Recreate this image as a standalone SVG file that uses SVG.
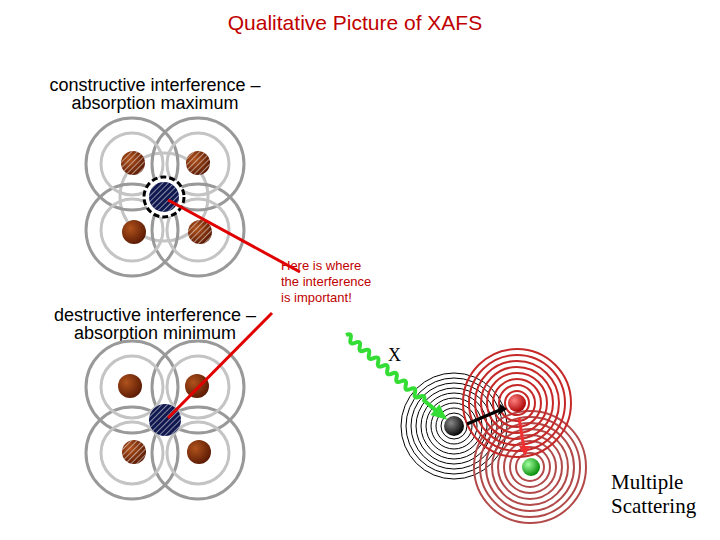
<svg xmlns="http://www.w3.org/2000/svg" width="720" height="540" viewBox="0 0 720 540">
<style>
.s{font-family:"Liberation Sans",Arial,sans-serif;}
.o{fill:none;stroke:#999;stroke-width:3}
.i{fill:none;stroke:#c4c4c4;stroke-width:3}
.bl{fill:none;stroke:#000;stroke-width:1}
.rd{fill:none;stroke:#c62828;stroke-width:2}
.br{fill:none;stroke:#b24a4a;stroke-width:2}
</style>
<defs>
<radialGradient id="cu" cx="0.35" cy="0.35" r="0.7"><stop offset="0" stop-color="#b0521c"/><stop offset="1" stop-color="#5a1a04"/></radialGradient>
<pattern id="h" width="4" height="4" patternUnits="userSpaceOnUse" patternTransform="rotate(45)"><rect width="4" height="4" fill="none"/><line x1="0" y1="0" x2="0" y2="4" stroke="#fff" stroke-width="1"/></pattern>
<radialGradient id="bk" cx="0.35" cy="0.35" r="0.7"><stop offset="0" stop-color="#888"/><stop offset="1" stop-color="#000"/></radialGradient>
<radialGradient id="rb" cx="0.35" cy="0.35" r="0.7"><stop offset="0" stop-color="#ff8080"/><stop offset="1" stop-color="#a00"/></radialGradient>
<radialGradient id="gb" cx="0.35" cy="0.35" r="0.7"><stop offset="0" stop-color="#a0ffa0"/><stop offset="1" stop-color="#080"/></radialGradient>
</defs>
<text class="s" x="355" y="30" font-size="21" fill="#c00000" text-anchor="middle">Qualitative Picture of XAFS</text>
<text class="s" x="155" y="91" font-size="18" text-anchor="middle">constructive interference –</text>
<text class="s" x="155" y="109" font-size="18" text-anchor="middle">absorption maximum</text>
<text class="s" x="155" y="321" font-size="18" text-anchor="middle">destructive interference –</text>
<text class="s" x="155" y="339" font-size="18" text-anchor="middle">absorption minimum</text>
<text class="s" x="281" y="270" font-size="13" fill="#c00000">Here is where</text>
<text class="s" x="281" y="286" font-size="13" fill="#c00000">the interference</text>
<text class="s" x="281" y="302" font-size="13" fill="#c00000">is important!</text>

<g id="top">
<circle class="i" cx="164" cy="197" r="44"/>
<circle class="o" cx="132" cy="164" r="46"/><circle class="o" cx="198" cy="164" r="46"/><circle class="o" cx="132" cy="230" r="46"/><circle class="o" cx="198" cy="230" r="46"/>
<circle class="i" cx="132" cy="164" r="31"/><circle class="i" cx="198" cy="164" r="31"/><circle class="i" cx="132" cy="230" r="31"/><circle class="i" cx="198" cy="230" r="31"/>
<g><circle cx="133" cy="163" r="12" fill="url(#cu)"/><circle cx="133" cy="163" r="12" fill="url(#h)"/></g>
<g><circle cx="198" cy="163" r="12" fill="url(#cu)"/><circle cx="198" cy="163" r="12" fill="url(#h)"/></g>
<circle cx="134" cy="232" r="12" fill="url(#cu)"/>
<g><circle cx="200" cy="232" r="12" fill="url(#cu)"/><circle cx="200" cy="232" r="12" fill="url(#h)"/></g>
<circle cx="164" cy="197" r="20" fill="#fff" stroke="#000" stroke-width="3" stroke-dasharray="6,3"/>
<circle cx="164" cy="197" r="15" fill="#101850"/><circle cx="164" cy="197" r="15" fill="url(#h)"/>
</g>
<g id="bottom">
<circle class="o" cx="132" cy="387" r="46"/><circle class="o" cx="198" cy="387" r="46"/><circle class="o" cx="132" cy="453" r="46"/><circle class="o" cx="198" cy="453" r="46"/>
<circle class="i" cx="132" cy="387" r="31"/><circle class="i" cx="198" cy="387" r="31"/><circle class="i" cx="132" cy="453" r="31"/><circle class="i" cx="198" cy="453" r="31"/>
<circle cx="130" cy="386" r="12" fill="url(#cu)"/><circle cx="197" cy="386" r="12" fill="url(#cu)"/>
<g><circle cx="134" cy="452" r="12" fill="url(#cu)"/><circle cx="134" cy="452" r="12" fill="url(#h)"/></g>
<circle cx="199" cy="452" r="12" fill="url(#cu)"/>
<circle cx="165" cy="420" r="16" fill="#101850"/><circle cx="165" cy="420" r="16" fill="url(#h)"/>
</g>

<g id="ms">
<g class="bl"><circle cx="454" cy="426" r="8"/><circle cx="454" cy="426" r="13"/><circle cx="454" cy="426" r="18"/><circle cx="454" cy="426" r="23"/><circle cx="454" cy="426" r="28"/><circle cx="454" cy="426" r="33"/><circle cx="454" cy="426" r="38"/><circle cx="454" cy="426" r="43"/><circle cx="454" cy="426" r="48"/><circle cx="454" cy="426" r="53"/></g>
<g class="br"><circle cx="530" cy="467" r="14"/><circle cx="530" cy="467" r="20"/><circle cx="530" cy="467" r="26"/><circle cx="530" cy="467" r="32"/><circle cx="530" cy="467" r="38"/><circle cx="530" cy="467" r="44"/><circle cx="530" cy="467" r="50"/><circle cx="530" cy="467" r="56"/></g>
<g class="rd"><circle cx="517" cy="403" r="12"/><circle cx="517" cy="403" r="18"/><circle cx="517" cy="403" r="24"/><circle cx="517" cy="403" r="30"/><circle cx="517" cy="403" r="36"/><circle cx="517" cy="403" r="42"/><circle cx="517" cy="403" r="48"/><circle cx="517" cy="403" r="54"/></g>
<circle cx="454" cy="426" r="10" fill="url(#bk)"/>
<circle cx="517" cy="403" r="9" fill="url(#rb)"/>
<circle cx="531" cy="467" r="9" fill="url(#gb)"/>
<text x="388" y="361" font-family="Liberation Serif,serif" font-size="18">X</text>
<text x="611" y="489" font-family="Liberation Serif,serif" font-size="21">Multiple</text>
<text x="611" y="513" font-family="Liberation Serif,serif" font-size="21">Scattering</text>
</g>

<g id="connectors">
<line x1="168" y1="200" x2="300" y2="272" stroke="#e00000" stroke-width="3"/>
<line x1="272" y1="313" x2="168" y2="418" stroke="#e00000" stroke-width="3"/>
<g transform="translate(346,335) rotate(40)">
<path d="M0,0 q3,-6 6,0 t6,0 t6,0 t6,0 t6,0 t6,0 t6,0 t6,0 t6,0 t6,0 t6,0 t6,0 t6,0 t6,0 t6,0 t6,0 t6,0 L118,0" fill="none" stroke="#33dd33" stroke-width="4"/>
<path d="M116,-7 L132,0 L116,7 z" fill="#33dd33"/>
</g>
<line x1="467" y1="424" x2="500" y2="410" stroke="#000" stroke-width="3"/>
<path d="M500,404 L507,409 L498,415 z" fill="#000"/>
<line x1="519" y1="418" x2="524" y2="448" stroke="#f03030" stroke-width="3"/>
<path d="M519,446 L530,446 L525,456 z" fill="#f03030"/>
</g>
</svg>
